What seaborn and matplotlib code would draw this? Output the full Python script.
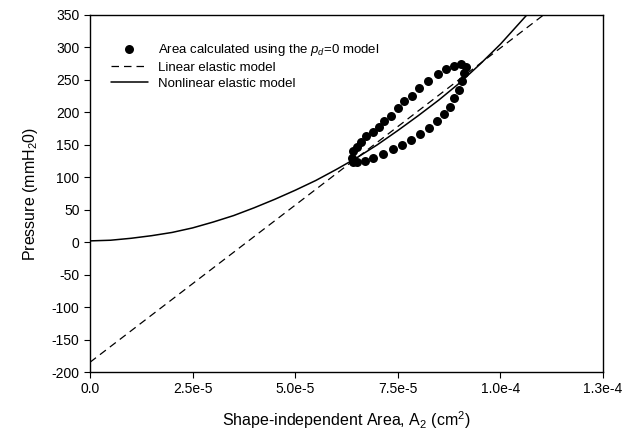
import matplotlib
matplotlib.use("Agg")
import matplotlib.pyplot as plt
import seaborn as sns
import pandas as pd

# loop of measured points (area in cm^2, pressure in mmH2O)
loop_area = [6.38e-5, 6.42e-5, 6.50e-5, 6.60e-5, 6.73e-5, 6.90e-5, 7.05e-5, 7.17e-5,
             7.33e-5, 7.51e-5, 7.66e-5, 7.84e-5, 8.02e-5, 8.24e-5, 8.49e-5, 8.67e-5,
             8.87e-5, 9.03e-5, 9.16e-5, 9.11e-5, 9.06e-5, 8.98e-5, 8.88e-5, 8.77e-5,
             8.63e-5, 8.46e-5, 8.26e-5, 8.04e-5, 7.81e-5, 7.60e-5, 7.38e-5, 7.15e-5,
             6.90e-5, 6.70e-5, 6.50e-5, 6.40e-5]
loop_pressure = [130, 140, 147, 155, 163, 170, 178, 186,
                 195, 207, 217, 225, 238, 249, 259, 267,
                 272, 274, 270, 260, 248, 235, 222, 209,
                 197, 187, 176, 167, 158, 150, 143, 136,
                 130, 125, 123, 124]

# linear elastic model
lin_area = [0.0, 1.105e-4]
lin_pressure = [-185, 350]

# nonlinear elastic model
nl_area = [0.0, 0.5e-5, 1.0e-5, 1.5e-5, 2.0e-5, 2.5e-5, 3.0e-5, 3.5e-5, 4.0e-5, 4.5e-5,
           5.0e-5, 5.5e-5, 6.0e-5, 6.5e-5, 7.0e-5, 7.5e-5, 8.0e-5, 8.5e-5, 9.0e-5,
           9.5e-5, 1.0e-4, 1.05e-4, 1.1e-4]
nl_pressure = [2, 3, 6, 10, 15, 22, 31, 41, 53, 66,
               80, 95, 112, 130, 150, 172, 195, 219, 245,
               274, 305, 340, 375]

x_ticks = [0.0, 2.5e-5, 5.0e-5, 7.5e-5, 1.0e-4, 1.25e-4]
x_tick_labels = ["0.0", "2.5e-5", "5.0e-5", "7.5e-5", "1.0e-4", "1.3e-4"]
y_ticks = list(range(-200, 351, 50))

sns.set_style("ticks")
plt.rcParams["font.family"] = ["Liberation Sans", "DejaVu Sans"]
plt.rcParams["mathtext.fontset"] = "custom"
plt.rcParams["mathtext.rm"] = "Liberation Sans"
plt.rcParams["mathtext.it"] = "Liberation Sans:italic"
plt.rcParams["axes.unicode_minus"] = False
plt.rcParams["text.color"] = "black"
plt.rcParams["axes.labelcolor"] = "black"
plt.rcParams["xtick.color"] = "black"
plt.rcParams["ytick.color"] = "black"

fig = plt.figure(figsize=(6.34, 4.37), dpi=100)
ax = fig.add_axes([90 / 634, 65 / 437, 513 / 634, 357 / 437])

loop_df = pd.DataFrame({"area": loop_area, "pressure": loop_pressure})
sns.scatterplot(data=loop_df, x="area", y="pressure", ax=ax, color="black",
                s=42, edgecolor="black", linewidth=0, zorder=3,
                label=r"Area calculated using the $p_d$=0 model")
sns.lineplot(x=lin_area, y=lin_pressure, ax=ax, color="black", linewidth=0.9,
             linestyle=(0, (6, 4)), sort=False, label="Linear elastic model")
sns.lineplot(x=nl_area, y=nl_pressure, ax=ax, color="black", linewidth=1.1,
             sort=False, label="Nonlinear elastic model")

ax.set_xlim(0, 1.25e-4)
ax.set_ylim(-200, 350)
ax.set_xticks(x_ticks)
ax.set_xticklabels(x_tick_labels)
ax.set_yticks(y_ticks)
ax.tick_params(labelsize=10, length=4, width=0.8, color="black", labelcolor="black")
for sp in ax.spines.values():
    sp.set_visible(True)
    sp.set_color("black")
    sp.set_linewidth(1.0)

ax.set_xlabel(r"Shape-independent Area, A$_2$ (cm$^2$)", fontsize=11.5, labelpad=9)
ax.set_ylabel(r"Pressure (mmH$_2$0)", fontsize=11.5, labelpad=8)

ax.legend(loc="upper left", frameon=False, fontsize=9.5, handlelength=2.8,
          handletextpad=0.8, labelspacing=0.3, bbox_to_anchor=(0.03, 0.94),
          borderaxespad=0)

fig.savefig("out.png", dpi=100)
